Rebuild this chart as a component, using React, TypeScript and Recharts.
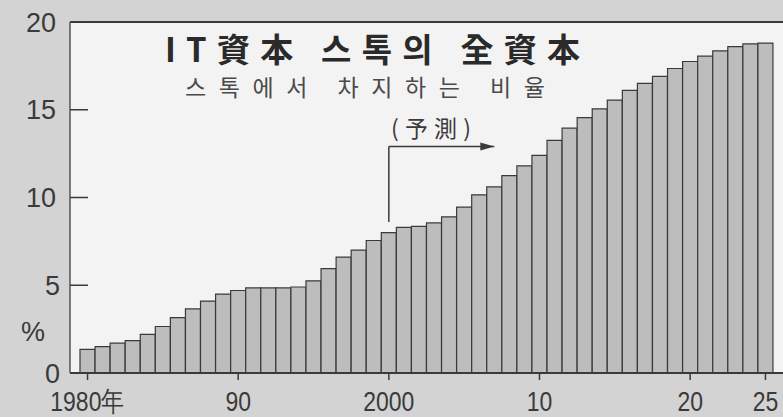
import React from 'react';
import { BarChart, Bar, XAxis, YAxis, CartesianGrid, ReferenceLine, ReferenceDot, Customized } from 'recharts';

const years = [
  1980, 1981, 1982, 1983, 1984, 1985, 1986, 1987, 1988, 1989,
  1990, 1991, 1992, 1993, 1994, 1995, 1996, 1997, 1998, 1999,
  2000, 2001, 2002, 2003, 2004, 2005, 2006, 2007, 2008, 2009,
  2010, 2011, 2012, 2013, 2014, 2015, 2016, 2017, 2018, 2019,
  2020, 2021, 2022, 2023, 2024, 2025,
];

// IT capital stock as % of total capital stock (2001 onward is forecast)
const shares = [
  1.35, 1.5, 1.7, 1.85, 2.2, 2.65, 3.15, 3.65, 4.1, 4.5,
  4.7, 4.85, 4.85, 4.85, 4.9, 5.25, 5.95, 6.6, 7.0, 7.55,
  8.0, 8.3, 8.35, 8.55, 8.9, 9.45, 10.15, 10.6, 11.25, 11.8,
  12.4, 13.25, 13.95, 14.55, 15.05, 15.55, 16.1, 16.5, 16.9, 17.35,
  17.75, 18.05, 18.35, 18.6, 18.75, 18.8,
];

const yTicks = [0, 5, 10, 15, 20];
const xTickYears = [1980, 1990, 2000, 2010, 2020, 2025];
const xTickLabels = ['1980年', '90', '2000', '10', '20', '25'];

const title = 'IT資本 스톡의 全資本';
const subtitle = '스톡에서 차지하는 비율';
const forecastLabel = '(予測)';
const forecastStart = 2000;
const forecastArrowEnd = 2007;
const forecastLineTop = 12.9;
const forecastLineBottom = 8.6;

const data = years.map((year, i) => ({ year, share: shares[i] }));

const INK = '#3a3a3a';
const NUM_FONT = '"Liberation Sans", Arial, sans-serif';
const CJK_FONT = '"Noto Sans CJK KR", "Noto Sans CJK JP", sans-serif';

const XTick = (props: any) => {
  const { x, y, payload } = props;
  const idx = xTickYears.indexOf(payload.value);
  if (idx < 0) return null;
  return (
    <g>
      <line x1={x} y1={y - 8} x2={x} y2={y - 1} stroke={INK} strokeWidth={1.5} />
      <text
        transform={`translate(${x},${y + 30}) scale(0.82,1)`}
        textAnchor="middle"
        fontSize={28}
        fontFamily={NUM_FONT}
        fill={INK}
      >
        {xTickLabels[idx]}
      </text>
    </g>
  );
};

const YTick = (props: any) => {
  const { y, payload } = props;
  const x = payload.value < 10 ? 60 : 56;
  return (
    <g>
      {payload.value !== 0 && <line x1={70} y1={y} x2={88} y2={y} stroke={INK} strokeWidth={1.5} />}
      <text x={x} y={y} dy="0.36em" textAnchor="end" fontSize={27} fontFamily={NUM_FONT} fill={INK}>
        {payload.value}
      </text>
    </g>
  );
};

const Arrowhead = (p: any) => (
  <polygon
    points={`${p.cx - 14},${p.cy - 4} ${p.cx},${p.cy} ${p.cx - 14},${p.cy + 4}`}
    fill={INK}
  />
);

const Titles = () => (
  <g>
    <text x={165} y={62} textLength={415} lengthAdjust="spacing" fontSize={33} fontWeight="bold" fontFamily={CJK_FONT} fill="#2a2a2a">
      {title}
    </text>
    <text x={185} y={96} textLength={360} lengthAdjust="spacing" fontSize={23} fontFamily={CJK_FONT} fill="#4a4a4a">
      {subtitle}
    </text>
    <text x={391} y={137} textLength={80} lengthAdjust="spacing" fontSize={23} fontFamily={'"Noto Sans CJK JP", sans-serif'} fill={INK}>
      {forecastLabel}
    </text>
    <text x={33} y={341} textAnchor="middle" fontSize={27} fontFamily={NUM_FONT} fill={INK}>
      %
    </text>
  </g>
);

export default function App() {
  return (
    <div style={{ position: 'absolute', left: 0, top: 0, width: 783, height: 417, background: '#d3d3d3' }}>
      <BarChart
        width={783}
        height={417}
        data={data}
        margin={{ top: 22, right: 0, left: 0, bottom: 4 }}
        barCategoryGap={0}
      >
        <CartesianGrid fill="#f3f3f3" horizontal={false} vertical={false} />
        <XAxis
          dataKey="year"
          height={40}
          padding={{ left: 10, right: 10 }}
          interval={0}
          tickLine={false}
          tick={<XTick />}
          axisLine={{ stroke: INK, strokeWidth: 2 }}
        />
        <YAxis
          width={70}
          domain={[0, 20]}
          ticks={yTicks}
          tickLine={false}
          tick={<YTick />}
          axisLine={{ stroke: '#555', strokeWidth: 1.5 }}
        />
        <ReferenceLine y={20} stroke={INK} strokeWidth={2} />
        <Bar dataKey="share" fill="#bdbdbd" stroke={INK} strokeWidth={1.2} isAnimationActive={false} />
        <ReferenceLine
          segment={[{ x: forecastStart, y: forecastLineBottom }, { x: forecastStart, y: forecastLineTop }]}
          stroke={INK}
          strokeWidth={1.5}
        />
        <ReferenceLine
          segment={[{ x: forecastStart, y: forecastLineTop }, { x: forecastArrowEnd, y: forecastLineTop }]}
          stroke={INK}
          strokeWidth={1.5}
        />
        <ReferenceDot x={forecastArrowEnd} y={forecastLineTop} shape={Arrowhead} />
        <Customized component={Titles} />
      </BarChart>
    </div>
  );
}
